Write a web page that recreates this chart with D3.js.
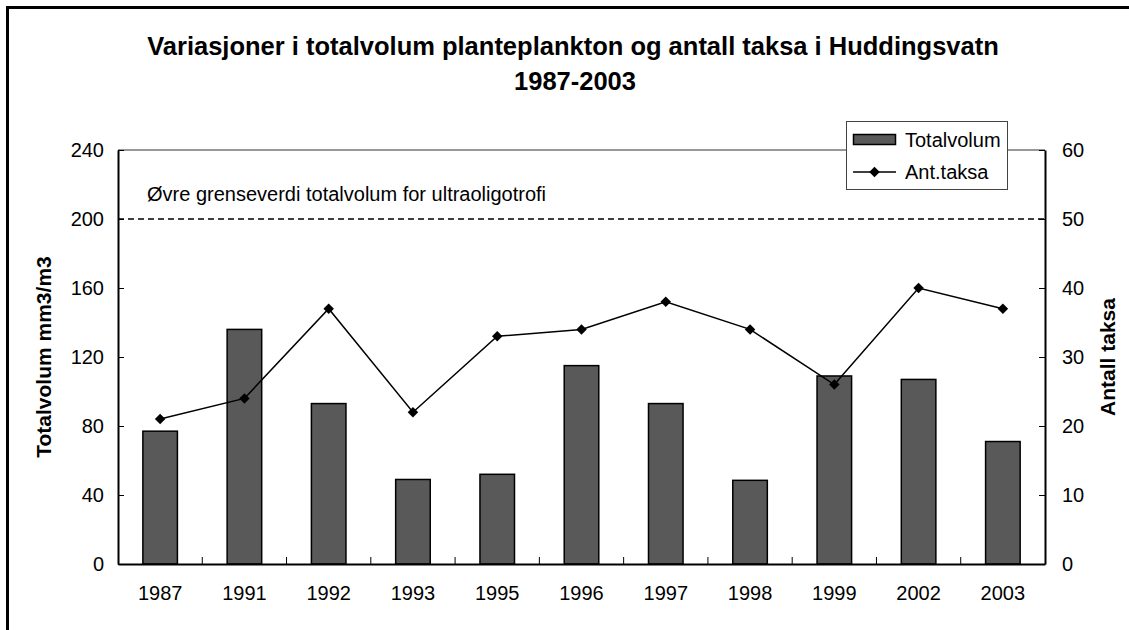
<!DOCTYPE html>
<html>
<head>
<meta charset="utf-8">
<script src="https://cdn.jsdelivr.net/npm/d3@7"></script>
<style>
  html, body { margin: 0; padding: 0; background: #fff; }
  svg { display: block; font-family: "Liberation Sans", Arial, sans-serif; }
</style>
</head>
<body>
<svg id="chart" width="1129" height="630"></svg>
<script>
// Sampling years (x categories)
const years = ["1987", "1991", "1992", "1993", "1995", "1996", "1997", "1998", "1999", "2002", "2003"];
// Total phytoplankton volume, mm3/m3 (bars, left axis)
const totalvolum = [77, 136, 93, 49, 52, 115, 93, 48.5, 109, 107, 71];
// Number of taxa (line, right axis)
const antTaksa = [21, 24, 37, 22, 33, 34, 38, 34, 26, 40, 37];
// Upper limit of total volume for ultra-oligotrophic lakes
const grenseverdi = 200;
// Axis ticks
const leftTicks = [0, 40, 80, 120, 160, 200, 240];
const rightTicks = [0, 10, 20, 30, 40, 50, 60];

const titleLines = ["Variasjoner i totalvolum planteplankton og antall taksa i Huddingsvatn", "1987-2003"];

const svg = d3.select("#chart");
const plot = { left: 118, right: 1045, top: 150, bottom: 564 };

const x = d3.scaleBand().domain(years).range([plot.left, plot.right]).padding(0);
const yL = d3.scaleLinear().domain([0, 240]).range([plot.bottom, plot.top]);
const yR = d3.scaleLinear().domain([0, 60]).range([plot.bottom, plot.top]);

// Outer chart frame
svg.append("rect")
  .attr("x", 7.5).attr("y", 7.5)
  .attr("width", 1160).attr("height", 660)
  .attr("fill", "none").attr("stroke", "#000").attr("stroke-width", 3);

// Title
svg.append("text")
  .attr("x", 573).attr("y", 55)
  .attr("text-anchor", "middle")
  .attr("font-size", 25.5).attr("font-weight", "bold")
  .text(titleLines[0]);
svg.append("text")
  .attr("x", 575).attr("y", 90)
  .attr("text-anchor", "middle")
  .attr("font-size", 25.5).attr("font-weight", "bold")
  .text(titleLines[1]);

// Plot frame (top edge)
svg.append("line")
  .attr("x1", plot.left).attr("x2", plot.right)
  .attr("y1", plot.top).attr("y2", plot.top)
  .attr("stroke", "#333").attr("stroke-width", 1.2);

// Bars
const barW = x.bandwidth() * 0.41;
svg.append("g").selectAll("rect")
  .data(years.map((y, i) => ({ year: y, v: totalvolum[i] })))
  .join("rect")
  .attr("x", d => x(d.year) + x.bandwidth() / 2 - barW / 2)
  .attr("y", d => yL(d.v))
  .attr("width", barW)
  .attr("height", d => yL(0) - yL(d.v))
  .attr("fill", "#595959")
  .attr("stroke", "#000").attr("stroke-width", 1.5);

// Threshold line
svg.append("line")
  .attr("x1", plot.left).attr("x2", plot.right)
  .attr("y1", yL(grenseverdi)).attr("y2", yL(grenseverdi))
  .attr("stroke", "#000").attr("stroke-width", 1.3)
  .attr("stroke-dasharray", "6,4");
svg.append("text")
  .attr("x", 147).attr("y", 201)
  .attr("font-size", 20)
  .text("Øvre grenseverdi totalvolum for ultraoligotrofi");

// Left axis
const axL = d3.axisLeft(yL).tickValues(leftTicks).tickSize(-6).tickPadding(14).tickSizeOuter(0);
const gL = svg.append("g").attr("transform", `translate(${plot.left},0)`).call(axL);
// Right axis
const axR = d3.axisRight(yR).tickValues(rightTicks).tickSize(-6).tickPadding(17).tickSizeOuter(0);
const gR = svg.append("g").attr("transform", `translate(${plot.right},0)`).call(axR);
// Bottom axis: ticks at category boundaries
const gB = svg.append("g").attr("transform", `translate(0,${plot.bottom})`)
  .call(d3.axisBottom(x).tickSize(0).tickPadding(22));
gB.selectAll(".bnd")
  .data(years.slice(1))
  .join("line")
  .attr("class", "bnd")
  .attr("x1", d => x(d)).attr("x2", d => x(d))
  .attr("y1", 0).attr("y2", -7)
  .attr("stroke", "#000").attr("stroke-width", 1);

[gL, gR, gB].forEach(g => {
  g.selectAll(".domain").attr("stroke", "#000").attr("stroke-width", 2);
  g.selectAll(".tick line").attr("stroke", "#000").attr("stroke-width", 1);
  g.selectAll("text").attr("font-size", 20).attr("fill", "#000")
    .attr("font-family", "Liberation Sans, Arial, sans-serif");
});

// Taxa line with diamond markers
const line = d3.line()
  .x((d, i) => x(years[i]) + x.bandwidth() / 2)
  .y(d => yR(d));
svg.append("path")
  .datum(antTaksa)
  .attr("d", line)
  .attr("fill", "none").attr("stroke", "#000").attr("stroke-width", 1.5);
const diamond = d3.symbol().type(d3.symbolDiamond2).size(70);
svg.append("g").selectAll("path")
  .data(antTaksa)
  .join("path")
  .attr("d", diamond)
  .attr("transform", (d, i) => `translate(${x(years[i]) + x.bandwidth() / 2},${yR(d)})`)
  .attr("fill", "#000");

// Axis titles
svg.append("text")
  .attr("transform", `translate(51,${(plot.top + plot.bottom) / 2}) rotate(-90)`)
  .attr("text-anchor", "middle")
  .attr("font-size", 21).attr("font-weight", "bold")
  .text("Totalvolum mm3/m3");
svg.append("text")
  .attr("transform", `translate(1115,${(plot.top + plot.bottom) / 2}) rotate(-90)`)
  .attr("text-anchor", "middle")
  .attr("font-size", 21).attr("font-weight", "bold")
  .text("Antall taksa");

// Legend
const lg = svg.append("g");
lg.append("rect")
  .attr("x", 846.5).attr("y", 121.5).attr("width", 161).attr("height", 68)
  .attr("fill", "#fff").attr("stroke", "#444").attr("stroke-width", 1);
lg.append("rect")
  .attr("x", 853.5).attr("y", 134.5).attr("width", 42).attr("height", 10)
  .attr("fill", "#595959").attr("stroke", "#000").attr("stroke-width", 1.5);
lg.append("text")
  .attr("x", 905).attr("y", 147)
  .attr("font-size", 20).text("Totalvolum");
lg.append("line")
  .attr("x1", 853).attr("x2", 896).attr("y1", 172).attr("y2", 172)
  .attr("stroke", "#000").attr("stroke-width", 1.5);
lg.append("path")
  .attr("d", diamond)
  .attr("transform", "translate(874.5,172)")
  .attr("fill", "#000");
lg.append("text")
  .attr("x", 905).attr("y", 179)
  .attr("font-size", 20).text("Ant.taksa");
</script>
</body>
</html>
